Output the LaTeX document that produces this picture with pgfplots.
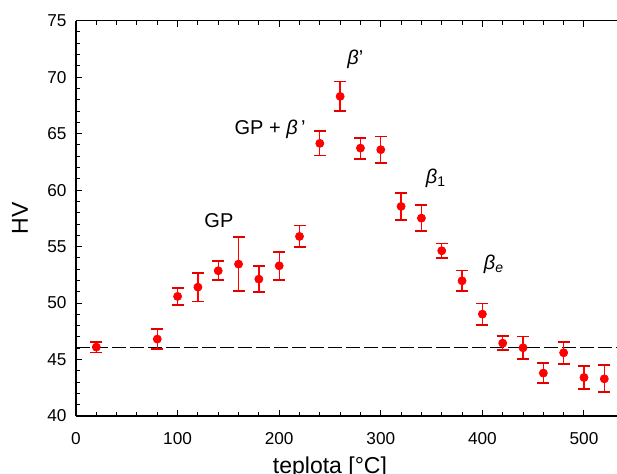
\documentclass[border=0pt]{standalone}
\usepackage{fontspec}
\setmainfont{Liberation Sans}
\usepackage{pgfplots}
\pgfplotsset{compat=1.18}

% hardness vs. annealing temperature
\pgfplotstableread{
x    y      e
20   46.10  0.47
80   46.81  0.91
100  50.59  0.76
120  51.41  1.27
140  52.86  0.85
160  53.45  2.38
180  52.12  1.15
200  53.30  1.25
220  55.90  0.96
240  64.14  1.07
260  68.30  1.32
280  63.72  0.93
300  63.58  1.17
320  58.56  1.20
340  57.52  1.13
360  54.63  0.64
380  51.97  0.92
400  49.02  0.94
420  46.45  0.60
440  46.04  1.00
460  43.80  0.90
480  45.60  0.98
500  43.41  1.05
520  43.29  1.20
}\hv

\begin{document}
\begin{tikzpicture}
\begin{axis}[
    scale only axis,
    width=270.5pt, height=197.65pt,
    xmin=0, xmax=532.5,
    ymin=40, ymax=75,
    axis x line*=box,
    axis y line*=left,
    xtick={0,100,...,500},
    ytick={40,45,...,75},
    minor x tick num=4,
    minor y tick num=4,
    tick align=inside,
    major tick length=3pt,
    minor tick length=2pt,
    axis line style={line width=0.6pt},
    tick style={black, line width=0.5pt},
    /pgf/number format/assume math mode=true,
    tick label style={font=\fontsize{8.6}{10}\selectfont},
    xticklabel style={yshift=-4.6pt},
    yticklabel style={xshift=-1.2pt},
    xlabel={teplota [°C]},
    ylabel={HV},
    label style={font=\fontsize{11.5}{13}\selectfont},
    xlabel style={at={(axis description cs:0.4695,0)}, anchor=north, inner sep=0pt, yshift=-20pt},
    ylabel style={at={(axis description cs:-0.1035,0.5)}, anchor=center, inner sep=0pt},
    clip=false,
]

\addplot[black, line width=0.5pt, dash pattern=on 7pt off 2pt] coordinates {(0,46.1) (532.5,46.1)};

\addplot[only marks, mark=*, mark size=2pt, red, mark options={red},
    error bars/.cd, y dir=both, y explicit,
    error bar style={red, line width=0.65pt},
    error mark=-,
    error mark options={rotate=90, draw=red!90!black, mark size=3pt, line width=0.9pt}]
    table[x=x, y=y, y error=e] {\hv};

\begin{scope}[font=\fontsize{10}{12}\selectfont]
\node at (axis cs:140.7,57.3) {GP};
\node at (axis cs:191,65.36) {GP + \textit{β}\,'};
\node at (axis cs:275,71.6) {\textit{β}'};
\node at (axis cs:354.3,61.07) {\textit{β}\textsubscript{1}};
\node at (axis cs:411.4,53.45) {\textit{β}\textsubscript{\textit{e}}};
\end{scope}
\end{axis}
\pgfresetboundingbox
\useasboundingbox (-38pt,-28.5pt) rectangle (270.5pt,208pt);
\end{tikzpicture}
\end{document}
